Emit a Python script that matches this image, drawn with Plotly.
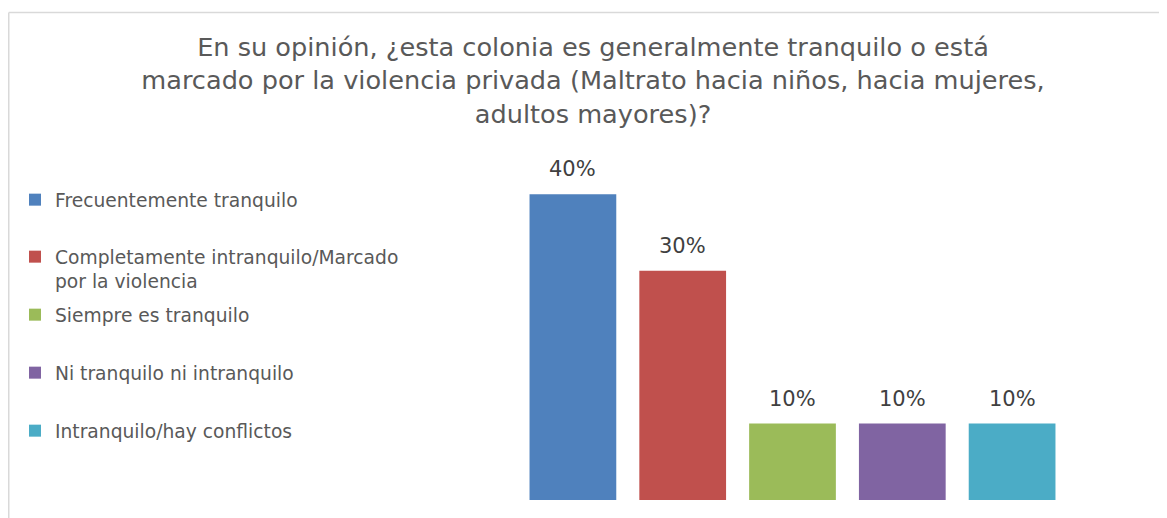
import plotly.graph_objects as go

title_text = ("En su opinión, ¿esta colonia es generalmente tranquilo o está<br>"
              "marcado por la violencia privada (Maltrato hacia niños, hacia mujeres,<br>"
              "adultos mayores)?")
categories = ["Frecuentemente tranquilo",
              "Completamente intranquilo/Marcado<br>por la violencia",
              "Siempre es tranquilo",
              "Ni tranquilo ni intranquilo",
              "Intranquilo/hay conflictos"]
values = [0.40, 0.30, 0.10, 0.10, 0.10]
colors = ["#4F81BD", "#C0504D", "#9BBB59", "#8064A2", "#4BACC6"]

# page body has an 8px margin; figure coordinates = screen - 8
W, H = 1159, 510
FONT = "DejaVu Sans"
legend_line_y = [200, 257, 315, 373, 431]  # screen centre of first text line
PL, PR, PT, PB = 510, 100, 148, 18
PW, PH = W - PL - PR, H - PT - PB

fig = go.Figure()
for i, (cat, val, col) in enumerate(zip(categories, values, colors)):
    lname = "legend" if i == 0 else f"legend{i+1}"
    fig.add_trace(go.Bar(x=[i], y=[val], name=cat, marker_color=col,
                         marker_line_width=0, width=0.79, legend=lname,
                         hoverinfo="skip"))
    fig.add_annotation(x=i, y=val, text=f"{val:.0%}", showarrow=False,
                       yanchor="bottom", yshift=11,
                       font=dict(family=FONT, size=21, color="#404040"))

layout_legends = {}
for i, py in enumerate(legend_line_y):
    key = "legend" if i == 0 else f"legend{i+1}"
    layout_legends[key] = dict(
        x=7 / W, y=1 - (py - 27) / H, xref="container", yref="container",
        xanchor="left", yanchor="top", valign="top",
        font=dict(family=FONT, size=18.7, color="#595959"),
        bgcolor="rgba(0,0,0,0)", borderwidth=0)

border = dict(color="#D9D9D9", width=1.5)
fig.update_layout(
    width=W, height=H,
    margin=dict(l=PL, r=PR, t=PT, b=PB),
    paper_bgcolor="white", plot_bgcolor="white",
    barmode="overlay",
    title=dict(text=title_text, x=585 / W, xanchor="center", xref="container",
               y=1 - 48 / H, yanchor="top", yref="container",
               font=dict(family=FONT, size=25.6, color="#595959")),
    xaxis=dict(visible=False, range=[-0.5, 4.5]),
    yaxis=dict(visible=False, range=[0, 0.45]),
    showlegend=True,
    shapes=[
        dict(type="line", xref="paper", yref="paper",
             x0=(0.75 - PL) / PW, x1=(W + 20 - PL) / PW,
             y0=(PH + PT - 4.5) / PH, y1=(PH + PT - 4.5) / PH,
             line=border, layer="below"),
        dict(type="line", xref="paper", yref="paper",
             x0=(0.75 - PL) / PW, x1=(0.75 - PL) / PW,
             y0=(PH + PT - 4.5) / PH, y1=(PH + PT - H - 20) / PH,
             line=border, layer="below"),
    ],
    **layout_legends,
)

fig.write_html("out.html")
